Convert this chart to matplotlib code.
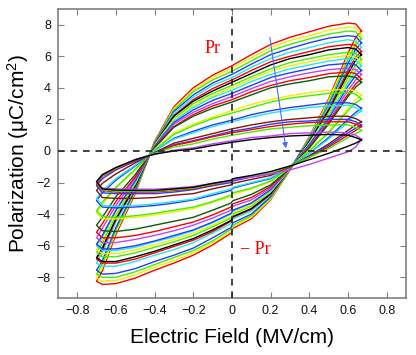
import matplotlib
matplotlib.use('Agg')
import matplotlib.pyplot as plt

# ---------------- data ----------------
# Electric field sample positions (MV/cm) along the upper branch (right -> left)
E_UP = [0.67, 0.64, 0.6, 0.5, 0.4, 0.3, 0.2, 0.1, 0.0, -0.1, -0.2, -0.3, -0.4, -0.5, -0.6, -0.67, -0.70]
# and along the lower branch (left -> right)
E_LO = [-0.67, -0.6, -0.5, -0.4, -0.3, -0.2, -0.1, -0.005, 0.005, 0.1, 0.2, 0.3, 0.4, 0.5, 0.6, 0.64]

# Polarization (uC/cm^2) of each loop, upper branch
upper_branches = [
    [7.6, 8.05, 8.1, 7.9, 7.55, 7.2, 6.75, 6.1, 5.4, 4.8, 4.0, 2.8, 0.6, -2.7, -5.3, -7.6, -8.25],
    [7.35, 7.8, 7.85, 7.65, 7.3, 7.0, 6.55, 5.9, 5.25, 4.65, 3.85, 2.7, 0.55, -2.6, -5.15, -7.4, -8.05],
    [7.1, 7.55, 7.6, 7.4, 7.1, 6.75, 6.35, 5.7, 5.05, 4.5, 3.75, 2.6, 0.55, -2.55, -5.0, -7.15, -7.8],
    [6.85, 7.25, 7.3, 7.15, 6.85, 6.5, 6.1, 5.5, 4.85, 4.3, 3.55, 2.5, 0.5, -2.45, -4.85, -6.95, -7.55],
    [6.55, 6.95, 7.05, 6.85, 6.55, 6.25, 5.85, 5.3, 4.65, 4.15, 3.4, 2.4, 0.45, -2.3, -4.5, -6.45, -7.1],
    [6.3, 6.7, 6.75, 6.6, 6.3, 6.0, 5.65, 5.1, 4.5, 3.95, 3.25, 2.25, 0.45, -2.25, -4.35, -6.25, -6.85],
    [6.1, 6.45, 6.55, 6.4, 6.1, 5.85, 5.45, 4.9, 4.35, 3.8, 3.15, 2.2, 0.4, -2.2, -4.3, -6.15, -6.75],
    [5.8, 6.2, 6.25, 6.1, 5.85, 5.6, 5.2, 4.7, 4.15, 3.65, 3.0, 2.05, 0.4, -2.1, -4.05, -5.85, -6.4],
    [5.6, 5.95, 6.05, 5.9, 5.65, 5.4, 5.05, 4.55, 4.0, 3.5, 2.85, 2.0, 0.35, -2.0, -3.95, -5.65, -6.25],
    [5.4, 5.75, 5.85, 5.7, 5.45, 5.2, 4.85, 4.4, 3.85, 3.4, 2.75, 1.9, 0.35, -1.95, -3.8, -5.45, -6.0],
    [5.1, 5.45, 5.55, 5.45, 5.2, 4.95, 4.65, 4.15, 3.65, 3.2, 2.6, 1.8, 0.3, -1.9, -3.75, -5.35, -5.9],
    [4.85, 5.15, 5.25, 5.15, 4.95, 4.7, 4.4, 3.95, 3.45, 3.0, 2.45, 1.7, 0.25, -1.75, -3.45, -4.9, -5.5],
    [4.55, 4.9, 5.0, 4.9, 4.65, 4.45, 4.15, 3.75, 3.25, 2.85, 2.3, 1.55, 0.25, -1.65, -3.2, -4.6, -5.15],
    [4.35, 4.65, 4.75, 4.7, 4.45, 4.25, 4.0, 3.55, 3.1, 2.7, 2.2, 1.5, 0.2, -1.5, -2.9, -4.2, -4.7],
    [3.55, 3.8, 3.9, 3.85, 3.7, 3.5, 3.25, 2.95, 2.55, 2.15, 1.7, 1.15, 0.1, -1.2, -2.35, -3.4, -3.9],
    [3.3, 3.6, 3.7, 3.65, 3.5, 3.35, 3.1, 2.75, 2.4, 2.05, 1.6, 1.05, 0.05, -1.15, -2.3, -3.25, -3.8],
    [2.7, 2.95, 3.05, 3.05, 2.9, 2.75, 2.55, 2.3, 1.95, 1.65, 1.25, 0.8, 0.0, -0.95, -1.85, -2.65, -3.15],
    [2.55, 2.75, 2.9, 2.85, 2.75, 2.6, 2.4, 2.15, 1.85, 1.55, 1.15, 0.75, 0.0, -0.9, -1.75, -2.55, -3.0],
    [1.85, 2.05, 2.2, 2.2, 2.1, 2.0, 1.85, 1.65, 1.4, 1.1, 0.8, 0.5, -0.1, -0.75, -1.45, -2.05, -2.5],
    [1.65, 1.85, 2.0, 2.0, 1.9, 1.85, 1.7, 1.45, 1.25, 0.95, 0.65, 0.4, -0.15, -0.65, -1.2, -1.75, -2.2],
    [1.55, 1.7, 1.85, 1.85, 1.8, 1.7, 1.55, 1.35, 1.15, 0.9, 0.6, 0.35, -0.15, -0.6, -1.15, -1.6, -2.1],
    [1.3, 1.5, 1.65, 1.65, 1.6, 1.5, 1.4, 1.2, 1.0, 0.75, 0.45, 0.25, -0.15, -0.55, -1.1, -1.55, -2.0],
    [0.75, 1.0, 1.15, 1.2, 1.15, 1.1, 0.95, 0.85, 0.65, 0.45, 0.2, 0.05, -0.2, -0.55, -1.05, -1.5, -1.95],
    [0.7, 0.85, 1.0, 1.05, 1.0, 0.95, 0.85, 0.72, 0.55, 0.35, 0.12, 0.0, -0.2, -0.55, -1.05, -1.5, -1.95],
]

# Polarization (uC/cm^2) of each loop, lower branch
lower_branches = [
    [-8.45, -8.4, -8.05, -7.55, -7.1, -6.6, -5.95, -5.2, -4.9, -4.3, -3.1, -1.2, 0.9, 3.3, 6.2, 7.2],
    [-8.25, -8.2, -7.85, -7.35, -6.95, -6.45, -5.8, -5.1, -4.8, -4.2, -3.05, -1.2, 0.85, 3.2, 6.0, 6.95],
    [-8.0, -8.0, -7.65, -7.2, -6.75, -6.3, -5.7, -4.95, -4.7, -4.1, -2.95, -1.2, 0.8, 3.05, 5.8, 6.75],
    [-7.8, -7.75, -7.45, -7.0, -6.6, -6.15, -5.5, -4.85, -4.55, -4.0, -2.9, -1.15, 0.75, 2.9, 5.55, 6.45],
    [-7.3, -7.3, -7.0, -6.6, -6.25, -5.8, -5.2, -4.6, -4.3, -3.8, -2.8, -1.15, 0.7, 2.8, 5.3, 6.2],
    [-7.1, -7.1, -6.85, -6.45, -6.05, -5.65, -5.1, -4.45, -4.2, -3.7, -2.75, -1.15, 0.6, 2.65, 5.1, 5.95],
    [-7.0, -7.0, -6.7, -6.35, -5.95, -5.55, -5.0, -4.4, -4.15, -3.65, -2.7, -1.15, 0.6, 2.55, 4.9, 5.75],
    [-6.7, -6.7, -6.45, -6.1, -5.75, -5.35, -4.8, -4.25, -4.0, -3.5, -2.6, -1.15, 0.5, 2.4, 4.65, 5.45],
    [-6.5, -6.5, -6.25, -5.95, -5.6, -5.2, -4.7, -4.15, -3.9, -3.4, -2.55, -1.15, 0.5, 2.3, 4.5, 5.25],
    [-6.3, -6.3, -6.1, -5.75, -5.45, -5.05, -4.55, -4.0, -3.8, -3.3, -2.5, -1.1, 0.45, 2.2, 4.3, 5.05],
    [-6.2, -6.2, -6.0, -5.7, -5.35, -5.0, -4.5, -3.95, -3.75, -3.3, -2.45, -1.1, 0.4, 2.05, 4.1, 4.8],
    [-5.8, -5.8, -5.6, -5.35, -5.05, -4.7, -4.25, -3.75, -3.5, -3.1, -2.35, -1.1, 0.3, 1.9, 3.85, 4.5],
    [-5.5, -5.5, -5.35, -5.1, -4.8, -4.5, -4.05, -3.55, -3.35, -2.95, -2.25, -1.1, 0.25, 1.8, 3.6, 4.25],
    [-5.05, -5.1, -4.95, -4.7, -4.45, -4.2, -3.75, -3.3, -3.15, -2.75, -2.15, -1.1, 0.2, 1.7, 3.45, 4.05],
    [-4.3, -4.3, -4.2, -4.05, -3.85, -3.65, -3.25, -2.9, -2.75, -2.4, -1.95, -1.05, 0.05, 1.25, 2.7, 3.25],
    [-4.15, -4.2, -4.1, -3.95, -3.75, -3.55, -3.2, -2.8, -2.65, -2.35, -1.9, -1.05, 0.0, 1.15, 2.55, 3.05],
    [-3.55, -3.6, -3.55, -3.45, -3.3, -3.1, -2.8, -2.5, -2.35, -2.05, -1.75, -1.0, -0.15, 0.85, 2.0, 2.45],
    [-3.45, -3.5, -3.45, -3.35, -3.2, -3.05, -2.7, -2.4, -2.3, -2.0, -1.7, -1.0, -0.15, 0.75, 1.85, 2.3],
    [-2.95, -3.0, -3.0, -2.95, -2.8, -2.7, -2.4, -2.15, -2.05, -1.8, -1.55, -1.0, -0.3, 0.45, 1.3, 1.65],
    [-2.65, -2.7, -2.7, -2.7, -2.6, -2.45, -2.2, -2.0, -1.9, -1.65, -1.45, -1.0, -0.35, 0.35, 1.15, 1.45],
    [-2.5, -2.6, -2.6, -2.6, -2.5, -2.4, -2.15, -1.9, -1.8, -1.6, -1.45, -1.0, -0.4, 0.25, 1.0, 1.3],
    [-2.45, -2.55, -2.55, -2.55, -2.45, -2.35, -2.1, -1.9, -1.8, -1.6, -1.4, -0.95, -0.4, 0.15, 0.85, 1.1],
    [-2.35, -2.4, -2.42, -2.42, -2.35, -2.25, -2.05, -1.9, -1.8, -1.65, -1.45, -1.2, -0.85, -0.45, -0.05, 0.25],
    [-2.4, -2.48, -2.5, -2.5, -2.4, -2.3, -2.05, -1.85, -1.75, -1.55, -1.3, -0.95, -0.55, -0.15, 0.3, 0.5],
]

loop_colors = ['#ff0000', '#f0f000', '#44ee00', '#1f3fff', '#22e8f0', '#ff0000',
               '#000000', '#44ee00', '#f0f000', '#22e8f0', '#1f3fff', '#c040ff',
               '#ff0000', '#0a5a0a', '#f0f000', '#44ee00', '#1f3fff', '#22e8f0',
               '#8b1500', '#1f3fff', '#ff0000', '#44ee00', '#c040ff', '#000000']

x_ticks = [-0.8, -0.6, -0.4, -0.2, 0.0, 0.2, 0.4, 0.6, 0.8]
x_tick_labels = ['\u22120.8', '\u22120.6', '\u22120.4', '\u22120.2', '0', '0.2', '0.4', '0.6', '0.8']
y_ticks = [-8, -6, -4, -2, 0, 2, 4, 6, 8]
y_tick_labels = ['\u22128', '\u22126', '\u22124', '\u22122', '0', '2', '4', '6', '8']

# ---------------- plotting ----------------
plt.rcParams['font.family'] = ['Liberation Sans', 'DejaVu Sans']
plt.rcParams['mathtext.fontset'] = 'custom'
plt.rcParams['mathtext.rm'] = 'Liberation Sans'
plt.rcParams['mathtext.it'] = 'Liberation Sans:italic'

fig = plt.figure(figsize=(4.16, 3.55), dpi=100)
ax = fig.add_axes([0.139, 0.161, 0.837, 0.814])

for up, lo, c in zip(upper_branches, lower_branches, loop_colors):
    xs = E_UP + E_LO + [E_UP[0]]
    ys = up + lo + [up[0]]
    ax.plot(xs, ys, color=c, lw=1.0, solid_joinstyle='round')

ax.axvline(0, color='#222222', ls=(0, (4, 3.5)), lw=1.2, zorder=3)
ax.axhline(0, color='#222222', ls=(0, (4, 3.5)), lw=1.2, zorder=3)

ax.set_xlim(-0.9, 0.9)
ax.set_ylim(-9.3, 9.0)
ax.set_xticks(x_ticks)
ax.set_xticklabels(x_tick_labels)
ax.set_yticks(y_ticks)
ax.set_yticklabels(y_tick_labels)
ax.tick_params(direction='in', top=True, right=True, length=4, width=0.8,
               color='#808080', labelsize=9, pad=5, labelcolor='#111111')
for s in ax.spines.values():
    s.set_color('#808080')
    s.set_linewidth(1.2)

ax.set_xlabel('Electric Field (MV/cm)', fontsize=15, labelpad=8)
ax.set_ylabel('Polarization (\u03bcC/cm$^2$)', fontsize=15, labelpad=4)

ax.text(-0.098, 6.5, 'Pr', color='red', family='Liberation Serif', fontsize=13,
        ha='center', va='center')
ax.text(0.04, -6.25, '\u2212 Pr', color='red', family='Liberation Serif', fontsize=13,
        ha='left', va='center')

ax.annotate('', xy=(0.279, 0.17), xytext=(0.196, 7.2),
            arrowprops=dict(arrowstyle='-|>', color='#4a6cff', lw=0.8,
                            mutation_scale=8, shrinkA=0, shrinkB=0))

fig.savefig('out.png', dpi=100)
